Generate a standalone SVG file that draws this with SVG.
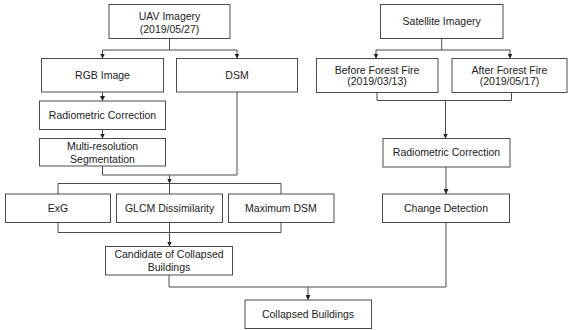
<svg xmlns="http://www.w3.org/2000/svg" width="568" height="330" viewBox="0 0 568 330">
<style>
.box rect{fill:#fff;stroke:#4a4a4a;stroke-width:1}
.box text{font-family:"Liberation Sans",Arial,sans-serif;font-size:10.5px;fill:#222;text-anchor:middle}
.conn path{fill:none;stroke:#4a4a4a;stroke-width:1}
</style>
<defs>
<marker id="ah" markerWidth="5" markerHeight="5" refX="5" refY="2.5" orient="auto" markerUnits="userSpaceOnUse">
<path d="M0,0 L5,2.5 L0,5 z" fill="#222"/>
</marker>
</defs>
<rect width="568" height="330" fill="#fff"/>
<g class="conn">
<path d="M169.5 38.5 V50 H102.5 V58.5" marker-end="url(#ah)"/>
<path d="M169.5 50 H237 V58.5" marker-end="url(#ah)"/>
<path d="M102.5 92 V101" marker-end="url(#ah)"/>
<path d="M102.5 129.5 V138.5" marker-end="url(#ah)"/>
<path d="M102.5 166 V175 H237"/>
<path d="M237 92 V175"/>
<path d="M169.5 175 V183.5" marker-end="url(#ah)"/>
<path d="M58 194 V183.5 H281 V194"/>
<path d="M169.5 183.5 V194"/>
<path d="M58 222.5 V232.5 H281 V222.5"/>
<path d="M169.5 222.5 V232.5"/>
<path d="M169.5 232.5 V246.5" marker-end="url(#ah)"/>
<path d="M169 275 V287 H446"/>
<path d="M446 222.5 V287"/>
<path d="M308 287 V300" marker-end="url(#ah)"/>
<path d="M441.7 38.5 V50 H376 V58.5" marker-end="url(#ah)"/>
<path d="M441.7 50 H510 V58.5" marker-end="url(#ah)"/>
<path d="M377 92.5 V100.5 H511.5 V92.5"/>
<path d="M445.5 100.5 V138.5" marker-end="url(#ah)"/>
<path d="M446 167 V194" marker-end="url(#ah)"/>
</g>
<g id="uav" class="box"><rect x="109" y="4.5" width="121" height="34"/><text x="169.5" y="19.5">UAV Imagery</text><text x="169.5" y="32.8">(2019/05/27)</text></g>
<g id="sat" class="box"><rect x="380.5" y="4.5" width="122.5" height="34"/><text x="441.7" y="25.2">Satellite Imagery</text></g>
<g id="rgb" class="box"><rect x="41.5" y="58.5" width="122" height="33.5"/><text x="102.5" y="78.8">RGB Image</text></g>
<g id="dsm" class="box"><rect x="176.5" y="58.5" width="121" height="33.5"/><text x="237" y="78.8">DSM</text></g>
<g id="before" class="box"><rect x="316.5" y="58.5" width="121.5" height="34"/><text x="377" y="73.8">Before Forest Fire</text><text x="377" y="85.4">(2019/03/13)</text></g>
<g id="after" class="box"><rect x="452" y="58.5" width="115" height="34"/><text x="509.5" y="73.8">After Forest Fire</text><text x="509.5" y="85.4">(2019/05/17)</text></g>
<g id="radL" class="box"><rect x="39.5" y="101" width="126" height="28.5"/><text x="102.5" y="118.8">Radiometric Correction</text></g>
<g id="msr" class="box"><rect x="39.5" y="138.5" width="126" height="27.5"/><text x="102.5" y="149.7">Multi-resolution</text><text x="102.5" y="162.7">Segmentation</text></g>
<g id="radR" class="box"><rect x="383" y="138.5" width="127" height="28.5"/><text x="446.5" y="156.4">Radiometric Correction</text></g>
<g id="exg" class="box"><rect x="5.5" y="194" width="105" height="28.5"/><text x="58" y="212">ExG</text></g>
<g id="glcm" class="box"><rect x="116.5" y="194" width="106" height="28.5"/><text x="169.5" y="212">GLCM Dissimilarity</text></g>
<g id="maxdsm" class="box"><rect x="228.5" y="194" width="105.5" height="28.5"/><text x="281" y="212">Maximum DSM</text></g>
<g id="change" class="box"><rect x="382.5" y="194" width="127" height="28.5"/><text x="446" y="212">Change Detection</text></g>
<g id="cand" class="box"><rect x="105.5" y="246.5" width="127" height="28.5"/><text x="169" y="258">Candidate of Collapsed</text><text x="169" y="271.4">Buildings</text></g>
<g id="collapsed" class="box"><rect x="245" y="300" width="126.5" height="28.5"/><text x="308" y="318">Collapsed Buildings</text></g>
</svg>
